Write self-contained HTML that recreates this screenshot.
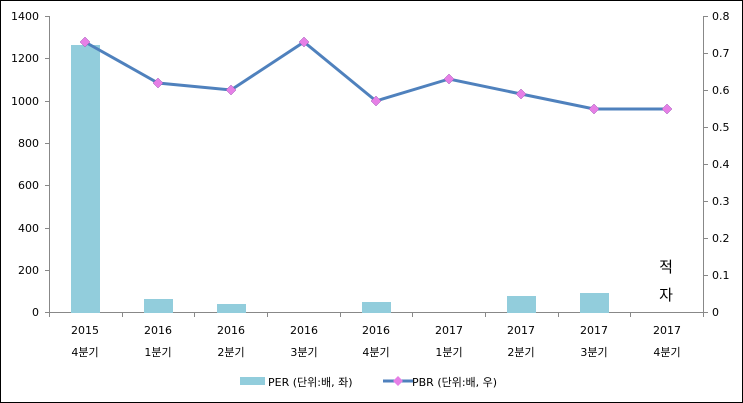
<!DOCTYPE html><html><head><meta charset="utf-8"><style>body{margin:0;background:#fff}svg{display:block}text{font-family:"DejaVu Sans","Noto Sans CJK KR",sans-serif;font-size:11px;fill:#000}</style></head><body>
<svg width="743" height="403" viewBox="0 0 743 403">
<rect x="0.5" y="0.5" width="742" height="402" fill="#fff" stroke="#000"/>
<g stroke="#888" stroke-width="1">
<line x1="49.5" y1="16" x2="49.5" y2="313"/>
<line x1="703.5" y1="16" x2="703.5" y2="313"/>
<line x1="49" y1="312.5" x2="704" y2="312.5"/>
</g>
<g stroke="#888">
<line x1="45" y1="16.5" x2="49" y2="16.5"/><line x1="45" y1="58.5" x2="49" y2="58.5"/><line x1="45" y1="101.5" x2="49" y2="101.5"/><line x1="45" y1="143.5" x2="49" y2="143.5"/><line x1="45" y1="185.5" x2="49" y2="185.5"/><line x1="45" y1="228.5" x2="49" y2="228.5"/><line x1="45" y1="270.5" x2="49" y2="270.5"/><line x1="45" y1="312.5" x2="49" y2="312.5"/>
<line x1="704" y1="16.5" x2="708" y2="16.5"/><line x1="704" y1="53.5" x2="708" y2="53.5"/><line x1="704" y1="90.5" x2="708" y2="90.5"/><line x1="704" y1="127.5" x2="708" y2="127.5"/><line x1="704" y1="164.5" x2="708" y2="164.5"/><line x1="704" y1="201.5" x2="708" y2="201.5"/><line x1="704" y1="238.5" x2="708" y2="238.5"/><line x1="704" y1="275.5" x2="708" y2="275.5"/><line x1="704" y1="312.5" x2="708" y2="312.5"/>
<line x1="49.5" y1="313" x2="49.5" y2="317"/><line x1="122.5" y1="313" x2="122.5" y2="317"/><line x1="194.5" y1="313" x2="194.5" y2="317"/><line x1="267.5" y1="313" x2="267.5" y2="317"/><line x1="340.5" y1="313" x2="340.5" y2="317"/><line x1="412.5" y1="313" x2="412.5" y2="317"/><line x1="485.5" y1="313" x2="485.5" y2="317"/><line x1="558.5" y1="313" x2="558.5" y2="317"/><line x1="630.5" y1="313" x2="630.5" y2="317"/><line x1="703.5" y1="313" x2="703.5" y2="317"/>
</g>
<g text-anchor="end"><text x="39" y="20">1400</text><text x="39" y="62">1200</text><text x="39" y="105">1000</text><text x="39" y="147">800</text><text x="39" y="189">600</text><text x="39" y="232">400</text><text x="39" y="274">200</text><text x="39" y="316">0</text></g>
<g><text x="712" y="20">0.8</text><text x="712" y="57">0.7</text><text x="712" y="94">0.6</text><text x="712" y="131">0.5</text><text x="712" y="168">0.4</text><text x="712" y="205">0.3</text><text x="712" y="242">0.2</text><text x="712" y="279">0.1</text><text x="712" y="316">0</text></g>
<g fill="#92CDDC">
<rect x="71" y="45" width="29" height="268"/><rect x="144" y="299" width="29" height="14"/><rect x="217" y="304" width="29" height="9"/><rect x="362" y="302" width="29" height="11"/><rect x="507" y="296" width="29" height="17"/><rect x="580" y="293" width="29" height="20"/>
</g>
<polyline fill="none" stroke="#4F81BD" stroke-width="3" points="85,42 158,83 231,90 304,42 376,101 449,79 521,94 594,109 667,109"/>
<g fill="#E67FE6" stroke="#9B59B6" stroke-width="0.5">
<path d="M85,37 l5,5 -5,5 -5,-5z"/><path d="M158,78 l5,5 -5,5 -5,-5z"/><path d="M231,85 l5,5 -5,5 -5,-5z"/><path d="M304,37 l5,5 -5,5 -5,-5z"/><path d="M376,96 l5,5 -5,5 -5,-5z"/><path d="M449,74 l5,5 -5,5 -5,-5z"/><path d="M521,89 l5,5 -5,5 -5,-5z"/><path d="M594,104 l5,5 -5,5 -5,-5z"/><path d="M667,104 l5,5 -5,5 -5,-5z"/>
</g>
<g text-anchor="middle">
<text x="85" y="334">2015</text><text x="85" y="356">4분기</text>
<text x="158" y="334">2016</text><text x="158" y="356">1분기</text>
<text x="231" y="334">2016</text><text x="231" y="356">2분기</text>
<text x="304" y="334">2016</text><text x="304" y="356">3분기</text>
<text x="376" y="334">2016</text><text x="376" y="356">4분기</text>
<text x="449" y="334">2017</text><text x="449" y="356">1분기</text>
<text x="521" y="334">2017</text><text x="521" y="356">2분기</text>
<text x="594" y="334">2017</text><text x="594" y="356">3분기</text>
<text x="667" y="334">2017</text><text x="667" y="356">4분기</text>
</g>
<text x="666" y="272" text-anchor="middle" style="font-size:15px">적</text>
<text x="666" y="300" text-anchor="middle" style="font-size:15px">자</text>
<rect x="240" y="377" width="25" height="8" fill="#92CDDC"/>
<text x="268" y="386" style="font-size:11px">PER (단위:배, 좌)</text>
<line x1="383" y1="381" x2="413" y2="381" stroke="#4F81BD" stroke-width="3"/>
<path d="M398,376 l5,5 -5,5 -5,-5z" fill="#E67FE6"/>
<text x="412" y="386" style="font-size:11px">PBR (단위:배, 우)</text>
</svg></body></html>
